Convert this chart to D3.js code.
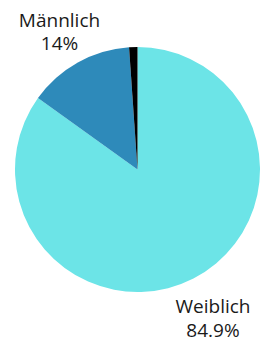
<!DOCTYPE html>
<html>
<head>
<meta charset="utf-8">
<script src="https://cdn.jsdelivr.net/npm/d3@7"></script>
<style>
  body { margin: 0; background: #fff; }
  text { font-family: "Open Sans", sans-serif; fill: #1a1a1a; }
</style>
</head>
<body>
<div id="chart"></div>
<script>
var labels = ['Weiblich', 'Männlich', '']
var values = [84.9, 14, 1.1]
var valueLabels = ['84.9%', '14%', '']
var colors = ['#6ce4e7', '#2e8aba', '#000000']

var width = 268, height = 343
var cx = 137.5, cy = 169.5, r = 122.5

var svg = d3.select('#chart').append('svg')
  .attr('width', width)
  .attr('height', height)

var data = labels.map((d, i) => ({label: d, value: values[i], text: valueLabels[i], color: colors[i]}))

var pie = d3.pie().sort(null).value(d => d.value)
var arc = d3.arc().innerRadius(0).outerRadius(r)

var g = svg.append('g').attr('transform', `translate(${cx},${cy})`)

g.selectAll('path')
  .data(pie(data))
  .join('path')
  .attr('d', arc)
  .attr('fill', d => d.data.color)

// label spots, outside the pie
var labelPos = [[213, 313], [59.5, 26.5]]

labelPos.forEach((p, i) => {
  var t = svg.append('text')
    .attr('x', p[0])
    .attr('y', p[1])
    .attr('text-anchor', 'middle')
    .style('font-size', '19px')
  t.append('tspan').attr('x', p[0]).text(data[i].label)
  t.append('tspan').attr('x', p[0]).attr('dy', 23.5).text(data[i].text)
})
</script>
</body>
</html>
